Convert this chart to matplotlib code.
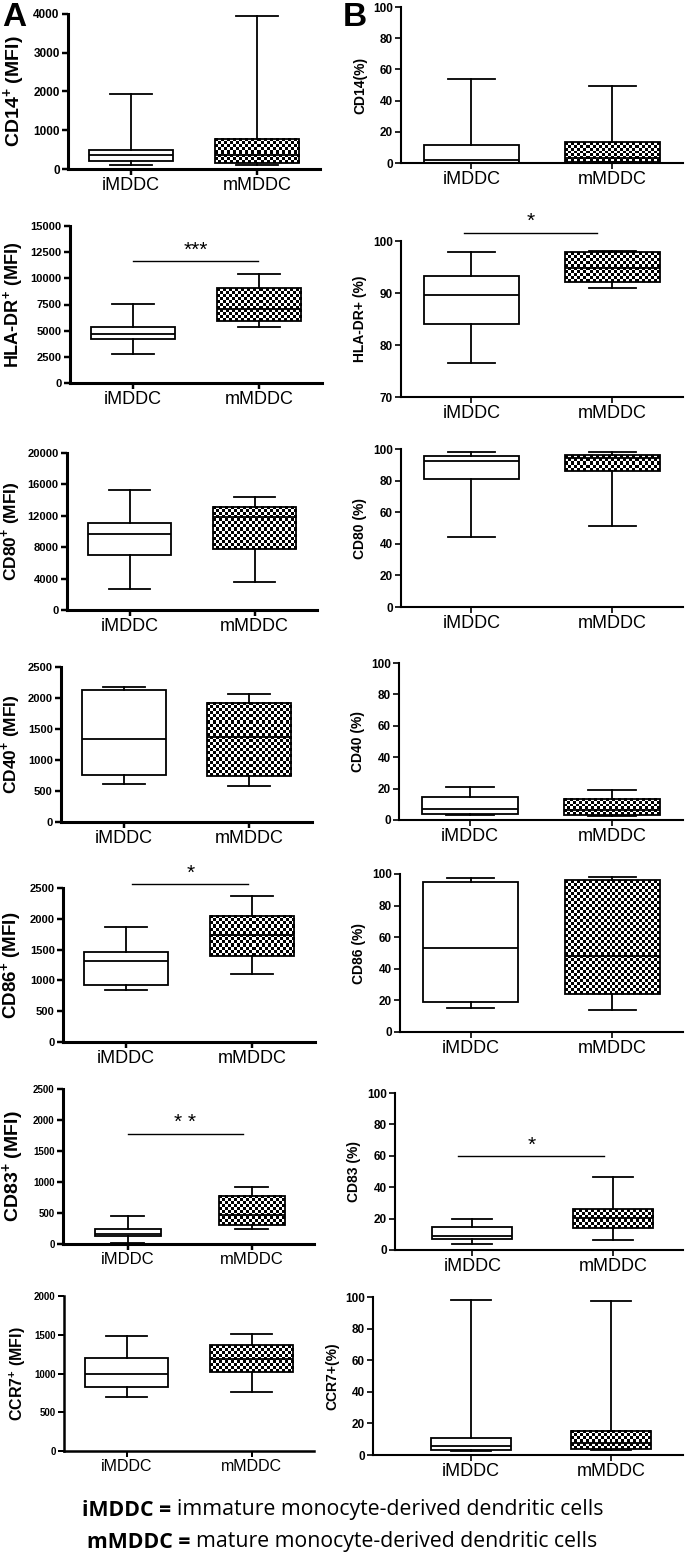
import numpy as np
import matplotlib
matplotlib.use("Agg")
import matplotlib.pyplot as plt

plt.rcParams['font.family'] = ['Liberation Sans', 'DejaVu Sans']
plt.rcParams['mathtext.fontset'] = 'custom'
plt.rcParams['mathtext.rm'] = 'Liberation Sans'
plt.rcParams['mathtext.bf'] = 'Liberation Sans:bold'

groups = ["iMDDC", "mMDDC"]

# box stats per group: whisker low, q1, median, q3, whisker high
cd14_mfi_i = [103, 215, 360, 489, 1930]
cd14_mfi_m = [103, 146, 370, 781, 3950]
cd14_pct_i = [0.1, 0.3, 2.1, 11.5, 54]
cd14_pct_m = [0.5, 0.9, 3.0, 13.6, 49.4]
hla_mfi_i = [2777, 4181, 4660, 5362, 7564]
hla_mfi_m = [5362, 5936, 7050, 9064, 10404]
hla_pct_i = [76.6, 84.1, 89.7, 93.3, 97.9]
hla_pct_m = [90.9, 92.1, 94.9, 97.8, 98.1]
cd80_mfi_i = [2638, 7064, 9745, 11021, 15319]
cd80_mfi_m = [3617, 7787, 11830, 13149, 14340]
cd80_pct_i = [44.4, 81.2, 92.2, 95.6, 97.9]
cd80_pct_m = [51.0, 86.3, 94.0, 96.2, 98.3]
cd40_mfi_i = [606, 751, 1341, 2135, 2178]
cd40_mfi_m = [585, 735, 1363, 1915, 2071]
cd40_pct_i = [3.5, 3.6, 6.8, 14.5, 21.0]
cd40_pct_m = [2.8, 3.0, 6.4, 13.6, 19.4]
cd86_mfi_i = [840, 932, 1315, 1460, 1864]
cd86_mfi_m = [1099, 1390, 1735, 2042, 2365]
cd86_pct_i = [15.0, 18.8, 53.0, 94.9, 97.5]
cd86_pct_m = [14.1, 24.0, 47.9, 96.0, 98.1]
cd83_mfi_i = [22, 124, 167, 242, 446]
cd83_mfi_m = [242, 301, 473, 769, 919]
cd83_pct_i = [3.6, 7.0, 9.1, 14.5, 19.8]
cd83_pct_m = [6.2, 14.3, 20.2, 26.2, 46.4]
ccr7_mfi_i = [697, 826, 998, 1196, 1480]
ccr7_mfi_m = [757, 1015, 1183, 1363, 1505]
ccr7_pct_i = [2.3, 3.0, 5.7, 11.0, 97.9]
ccr7_pct_m = [3.2, 3.8, 7.4, 15.4, 97.7]

W, H = 685, 1554
fig = plt.figure(figsize=(W / 100, H / 100), dpi=100)


def rect(x0, y0, x1, y1):
    return [x0 / W, 1 - y1 / H, (x1 - x0) / W, (y1 - y0) / H]


def stats_of(vals, label):
    lo, q1, med, q3, hi = vals
    return dict(whislo=lo, q1=q1, med=med, q3=q3, whishi=hi, label=label, fliers=[])


def checker_fill(ax, x0, x1, y0, y1, cell=3.0):
    p = ax.transData.transform([(x0, y0), (x1, y1)])
    nx = max(int(round(abs(p[1, 0] - p[0, 0]) / cell)), 1)
    ny = max(int(round(abs(p[1, 1] - p[0, 1]) / cell)), 1)
    board = (np.add.outer(np.arange(ny), np.arange(nx)) % 2).astype(float)
    ax.imshow(board, extent=(x0, x1, y0, y1), cmap='gray', vmin=0, vmax=1,
              interpolation='nearest', aspect='auto', zorder=1.5)


panels = [
    # left column (MFI)
    dict(r=(68, 14, 320, 169), d=(cd14_mfi_i, cd14_mfi_m), yl=(0, 4000), yt=np.arange(0, 4001, 1000),
         lab=r"CD14$^{\mathbf{+}}$ (MFI)", ls=14, ts=8.5, xs=13, lw=2.2, bw=0.67, xl=(0.5, 2.5)),
    dict(r=(401, 7, 683, 163), d=(cd14_pct_i, cd14_pct_m), yl=(0, 100), yt=np.arange(0, 101, 20),
         lab="CD14(%)", ls=10, ts=8.5, xs=13, lw=1.5, bw=0.67, xl=(0.5, 2.5)),
    dict(r=(70, 226, 322, 383), d=(hla_mfi_i, hla_mfi_m), yl=(0, 15000), yt=np.arange(0, 15001, 2500),
         lab=r"HLA-DR$^{\mathbf{+}}$ (MFI)", ls=13, ts=8, xs=13, lw=2.2, bw=0.67, xl=(0.5, 2.5),
         sig=(1.0, 1.99, 11650, "***")),
    dict(r=(401, 241, 683, 397), d=(hla_pct_i, hla_pct_m), yl=(70, 100), yt=np.arange(70, 101, 10),
         lab="HLA-DR+ (%)", ls=10, ts=8.5, xs=13, lw=1.5, bw=0.67, xl=(0.5, 2.5),
         sig=(0.95, 1.89, 101.6, "*")),
    dict(r=(67, 453, 317, 610), d=(cd80_mfi_i, cd80_mfi_m), yl=(0, 20000), yt=np.arange(0, 20001, 4000),
         lab=r"CD80$^{\mathbf{+}}$ (MFI)", ls=12.5, ts=8, xs=13, lw=2.2, bw=0.67, xl=(0.5, 2.5)),
    dict(r=(401, 449, 683, 607), d=(cd80_pct_i, cd80_pct_m), yl=(0, 100), yt=np.arange(0, 101, 20),
         lab="CD80 (%)", ls=10, ts=8.5, xs=13, lw=1.5, bw=0.67, xl=(0.5, 2.5)),
    dict(r=(61, 667, 312, 822), d=(cd40_mfi_i, cd40_mfi_m), yl=(0, 2500), yt=np.arange(0, 2501, 500),
         lab=r"CD40$^{\mathbf{+}}$ (MFI)", ls=12.5, ts=8, xs=13, lw=2.2, bw=0.67, xl=(0.5, 2.5)),
    dict(r=(399, 663, 683, 820), d=(cd40_pct_i, cd40_pct_m), yl=(0, 100), yt=np.arange(0, 101, 20),
         lab="CD40 (%)", ls=10, ts=8.5, xs=13, lw=1.5, bw=0.67, xl=(0.5, 2.5)),
    dict(r=(63, 888, 315, 1042), d=(cd86_mfi_i, cd86_mfi_m), yl=(0, 2500), yt=np.arange(0, 2501, 500),
         lab=r"CD86$^{\mathbf{+}}$ (MFI)", ls=13.5, ts=8, xs=13, lw=2.2, bw=0.67, xl=(0.5, 2.5),
         sig=(1.05, 1.97, 2565, "*")),
    dict(r=(400, 874, 683, 1032), d=(cd86_pct_i, cd86_pct_m), yl=(0, 100), yt=np.arange(0, 101, 20),
         lab="CD86 (%)", ls=10, ts=8.5, xs=13, lw=1.5, bw=0.67, xl=(0.5, 2.5)),
    dict(r=(63, 1089, 314, 1244), d=(cd83_mfi_i, cd83_mfi_m), yl=(0, 2500), yt=np.arange(0, 2501, 500),
         lab=r"CD83$^{\mathbf{+}}$ (MFI)", ls=14, ts=7, xs=12, lw=2.2, bw=0.53, xl=(0.48, 2.5),
         sig=(1.0, 1.93, 1780, "* *")),
    dict(r=(395, 1093, 683, 1250), d=(cd83_pct_i, cd83_pct_m), yl=(0, 100), yt=np.arange(0, 101, 20),
         lab="CD83 (%)", ls=10, ts=8.5, xs=13, lw=1.5, bw=0.57, xl=(0.45, 2.5),
         sig=(0.9, 1.94, 59.8, "*")),
    dict(r=(64, 1296, 314, 1451), d=(ccr7_mfi_i, ccr7_mfi_m), yl=(0, 2000), yt=np.arange(0, 2001, 500),
         lab=r"CCR7$^{\mathbf{+}}$ (MFI)", ls=11.5, ts=7, xs=11.5, lw=1.8, bw=0.67, xl=(0.5, 2.5)),
    dict(r=(373, 1297, 683, 1455), d=(ccr7_pct_i, ccr7_pct_m), yl=(0, 100), yt=np.arange(0, 101, 20),
         lab="CCR7+(%)", ls=10, ts=8.5, xs=13, lw=1.5, bw=0.57, xl=(0.3, 2.51)),
]

for p in panels:
    ax = fig.add_axes(rect(*p['r']))
    ax.set_xlim(*p['xl'])
    ax.set_ylim(*p['yl'])
    st = [stats_of(v, g) for v, g in zip(p['d'], groups)]
    res = ax.bxp(st, positions=[1, 2], widths=p['bw'], patch_artist=True, showfliers=False,
                 boxprops=dict(facecolor='white', edgecolor='black', linewidth=1.3),
                 medianprops=dict(color='black', linewidth=1.3),
                 whiskerprops=dict(color='black', linewidth=1.3),
                 capprops=dict(color='black', linewidth=1.3))
    res['boxes'][1].set_facecolor('none')
    res['boxes'][1].set_zorder(2.5)
    q1, q3 = p['d'][1][1], p['d'][1][3]
    checker_fill(ax, 2 - p['bw'] / 2, 2 + p['bw'] / 2, q1, q3)
    ax.set_xlim(*p['xl'])
    ax.set_ylim(*p['yl'])

    ax.set_yticks(p['yt'])
    ax.set_xticks([1, 2])
    ax.set_xticklabels(groups, fontsize=p['xs'])
    for t in ax.get_yticklabels():
        t.set_fontsize(p['ts'])
        t.set_fontweight('bold')
    ax.set_ylabel(p['lab'], fontsize=p['ls'], fontweight='bold')
    for s in ['top', 'right']:
        ax.spines[s].set_visible(False)
    for s in ['left', 'bottom']:
        ax.spines[s].set_linewidth(p['lw'])
    ax.tick_params(axis='both', direction='out', length=4, width=p['lw'] * 0.8, pad=2)

    if 'sig' in p:
        x0, x1, y, txt = p['sig']
        ax.plot([x0, x1], [y, y], color='black', linewidth=1.0, clip_on=False)
        ax.annotate(txt, xy=((x0 + x1) / 2, y), xytext=(0, 1), textcoords='offset points',
                    ha='center', va='bottom', fontsize=15, annotation_clip=False)

fig.text(2 / W, 1 - 2 / H, "A", fontsize=24, fontweight='bold', va='top', ha='left')
fig.text(343 / W, 1 - 2 / H, "B", fontsize=24, fontweight='bold', va='top', ha='left')

# footnote lines: bold abbreviation then plain description
notes = [("iMDDC = ", "immature monocyte-derived dendritic cells", 1510),
         ("mMDDC = ", "mature monocyte-derived dendritic cells", 1542)]
fig.canvas.draw()
r = fig.canvas.get_renderer()
for bold, plain, yy in notes:
    t1 = fig.text(0, 1 - yy / H, bold, fontsize=15.3, fontweight='bold', va='center',
                  family=['Open Sans', 'DejaVu Sans'])
    w1 = t1.get_window_extent(r).width
    t2 = fig.text(0, 1 - yy / H, plain, fontsize=15.3, va='center',
                  family=['Open Sans', 'DejaVu Sans'])
    w2 = t2.get_window_extent(r).width
    x0 = (W - (w1 + w2)) / 2
    t1.set_x(x0 / W)
    t2.set_x((x0 + w1) / W)

fig.savefig("out.png", dpi=100)
